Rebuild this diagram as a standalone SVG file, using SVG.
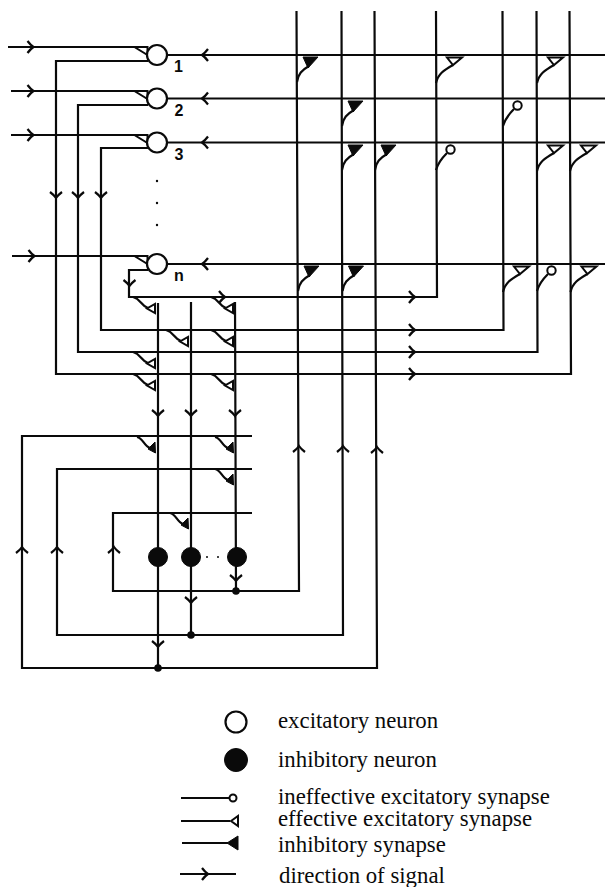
<svg xmlns="http://www.w3.org/2000/svg" width="605" height="887" viewBox="0 0 605 887">
<style>
.w{fill:none;stroke:#0a0a0a;stroke-width:2.200;stroke-linejoin:miter}
.n{fill:#fff;stroke:#0a0a0a;stroke-width:2.200}
.f{fill:#0a0a0a;stroke:#0a0a0a;stroke-width:1}
.o{fill:#fff;stroke:#0a0a0a;stroke-width:2}
.lab{font-family:"Liberation Sans",Arial,sans-serif;font-weight:bold;font-size:16px;fill:#0a0a0a;text-anchor:middle}
.leg{font-family:"Liberation Serif","Times New Roman",serif;font-size:22.800px;fill:#0a0a0a}
</style>
<defs>
<path id="ar" class="w" d="M-6,-6 Q-3,-2 0,0 Q-3,2 -6,6"/>
<g id="sTopF"><path class="w" d="M0,27 C1,19 5,15 12,11"/><path class="f" d="M6,2 L21,2 L11,13 Z"/></g>
<g id="sTopO"><path class="w" d="M0,28 C2,19 8,15 17,10"/><path class="o" d="M11,2.500 L26,2.500 L17,10 Z"/></g>
<g id="sTopC"><path class="w" d="M0,27 C2,20 6,15 11,10"/><circle class="o" cx="14.500" cy="6.500" r="4.200"/></g>
<g id="sEx"><path class="w" d="M-22,0 C-14,2 -14,9 -7,11"/><path class="o" d="M0,7 L0,16 L-8,11.500 Z"/></g>
<g id="sIn"><path class="w" d="M-18,0 C-12,1 -11,9 -5,11"/><path class="f" d="M0,5 L0.500,16 L-7,12 Z"/></g>
<path id="sInput" class="o" d="M-13,0 L0,0 L0,8 Z"/>
</defs>
<rect width="605" height="887" fill="#fff"/>
<g id="connectors">
<path class="w" d="M8,47H148M11,91H148M11,135H148M12,256H148"/>
<path class="w" d="M296.500,11L299,591H113V513H252M341.500,11L343,635H57V469H252M374.500,11L377,668H22V436H252"/>
<path class="w" d="M436,11L437,297H129V270H148M502.500,11L503.500,330H101V148H148M536.500,11L537.500,352H78V105H148M569.500,11L571,374H56V61H148"/>
<path class="w" d="M167,55H605M167,98.500H605M167,142.500H605M167,264H605"/>
<path class="w" d="M158,303V668M191,302V635M235,302L236,591"/>
<use href="#ar" transform="translate(33.500,47)"/><use href="#ar" transform="translate(33.500,91)"/><use href="#ar" transform="translate(33.500,135)"/><use href="#ar" transform="translate(34.500,256)"/>
<use href="#ar" transform="translate(202,55) rotate(180)"/><use href="#ar" transform="translate(202,98.500) rotate(180)"/><use href="#ar" transform="translate(202,142.500) rotate(180)"/><use href="#ar" transform="translate(202,264) rotate(180)"/>
<use href="#ar" transform="translate(56,198) rotate(90)"/><use href="#ar" transform="translate(78,198) rotate(90)"/><use href="#ar" transform="translate(101,198) rotate(90)"/>
<use href="#ar" transform="translate(129.500,286) rotate(90)"/>
<use href="#ar" transform="translate(225,297)"/><use href="#ar" transform="translate(415,297)"/><use href="#ar" transform="translate(415,330)"/><use href="#ar" transform="translate(415,352)"/><use href="#ar" transform="translate(415,374)"/>
<use href="#ar" transform="translate(158,416) rotate(90)"/><use href="#ar" transform="translate(191,416) rotate(90)"/><use href="#ar" transform="translate(235,416) rotate(90)"/>
<use href="#ar" transform="translate(22,547) rotate(-90)"/><use href="#ar" transform="translate(57,547) rotate(-90)"/><use href="#ar" transform="translate(114,547) rotate(-90)"/>
<use href="#ar" transform="translate(299,446) rotate(-90)"/><use href="#ar" transform="translate(343,446) rotate(-90)"/><use href="#ar" transform="translate(377,447) rotate(-90)"/>
<use href="#ar" transform="translate(236,581) rotate(90)"/><use href="#ar" transform="translate(191,603) rotate(90)"/><use href="#ar" transform="translate(158,647) rotate(90)"/>
<circle cx="236" cy="591" r="3.800" fill="#0a0a0a"/><circle cx="191" cy="635" r="3.800" fill="#0a0a0a"/><circle cx="158" cy="668" r="3.800" fill="#0a0a0a"/>
</g>
<g id="synapses">
<use href="#sInput" transform="translate(147.500,47)"/><use href="#sInput" transform="translate(147.500,91)"/><use href="#sInput" transform="translate(147.500,135)"/><use href="#sInput" transform="translate(147.500,256)"/>
<use href="#sTopF" transform="translate(297,55)"/><use href="#sTopF" transform="translate(342,99)"/><use href="#sTopF" transform="translate(342,143)"/><use href="#sTopF" transform="translate(375,143)"/><use href="#sTopF" transform="translate(298,264)"/><use href="#sTopF" transform="translate(342.500,264)"/>
<use href="#sTopO" transform="translate(436,55)"/><use href="#sTopO" transform="translate(537,55)"/><use href="#sTopO" transform="translate(537,143)"/><use href="#sTopO" transform="translate(570,143)"/><use href="#sTopO" transform="translate(503,264)"/><use href="#sTopO" transform="translate(570.500,264)"/>
<use href="#sTopC" transform="translate(503,99)"/><use href="#sTopC" transform="translate(436,143)"/><use href="#sTopC" transform="translate(537,264)"/>
<use href="#sEx" transform="translate(155,297)"/><use href="#sEx" transform="translate(233,297)"/><use href="#sEx" transform="translate(188,330)"/><use href="#sEx" transform="translate(233,330)"/><use href="#sEx" transform="translate(155,352)"/><use href="#sEx" transform="translate(155,374)"/><use href="#sEx" transform="translate(233,374)"/>
<use href="#sIn" transform="translate(155,437)"/><use href="#sIn" transform="translate(233,437)"/><use href="#sIn" transform="translate(233,469)"/><use href="#sIn" transform="translate(188,513)"/>
</g>
<g id="neuron-1"><circle class="n" cx="157" cy="55" r="10"/><text class="lab" x="178.500" y="72">1</text></g>
<g id="neuron-2"><circle class="n" cx="157" cy="98.500" r="10"/><text class="lab" x="179" y="116">2</text></g>
<g id="neuron-3"><circle class="n" cx="157" cy="142.500" r="10"/><text class="lab" x="179" y="160">3</text></g>
<g id="neuron-n"><circle class="n" cx="157" cy="264" r="10"/><text class="lab" x="179" y="281">n</text></g>
<g id="ellipsis-excitatory"><circle cx="157" cy="181" r="1.200" fill="#0a0a0a"/><circle cx="157" cy="203" r="1.200" fill="#0a0a0a"/><circle cx="157" cy="225" r="1.200" fill="#0a0a0a"/></g>
<g id="inhibitory-1"><circle class="f" cx="158" cy="557" r="9.500"/></g>
<g id="inhibitory-2"><circle class="f" cx="191" cy="557" r="9.500"/></g>
<g id="inhibitory-3"><circle class="f" cx="237" cy="557" r="9.500"/></g>
<g id="ellipsis-inhibitory"><circle cx="207" cy="557" r="1" fill="#0a0a0a"/><circle cx="218" cy="557" r="1" fill="#0a0a0a"/></g>
<g id="legend">
<circle class="n" cx="236" cy="722" r="10.500"/>
<circle class="f" cx="236" cy="760" r="11.500"/>
<path class="w" d="M181,798H229M181,821H230M182,843H228M180,874H236"/>
<circle class="o" cx="233" cy="798" r="3.500"/>
<path class="o" d="M231,821 L238,816 L238,826 Z"/>
<path class="f" d="M227,843 L238,836 L238,850 Z"/>
<use href="#ar" transform="translate(208,874)"/>
<text class="leg" x="278" y="728">excitatory neuron</text>
<text class="leg" x="278" y="767">inhibitory neuron</text>
<text class="leg" x="278" y="804">ineffective excitatory synapse</text>
<text class="leg" x="278" y="826">effective excitatory synapse</text>
<text class="leg" x="278" y="852">inhibitory synapse</text>
<text class="leg" x="279" y="883">direction of signal</text>
</g>
</svg>
